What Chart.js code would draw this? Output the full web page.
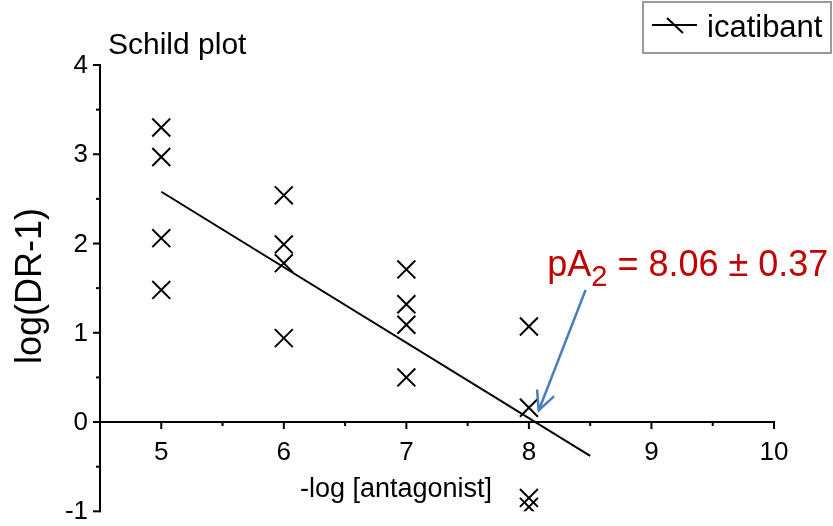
<!DOCTYPE html>
<html>
<head>
<meta charset="utf-8">
<script src="https://cdn.jsdelivr.net/npm/chart.js@4.4.1/dist/chart.umd.min.js"></script>
<style>
  html, body { margin: 0; padding: 0; background: #fff; }
  canvas { display: block; }
</style>
</head>
<body>
<canvas id="schild" width="833" height="526"></canvas>
<script>
// Dados do gráfico
const doses = [5, 5, 5, 5, 6, 6, 6, 6, 7, 7, 7, 7, 8, 8, 8, 8];
const logDR = [3.30, 2.97, 2.06, 1.48, 2.54, 1.99, 1.78, 0.94, 1.71, 1.32, 1.09, 0.50, 1.07, 0.16, -0.85, -0.95];
const fitX = [5, 8.5];
const fitY = [2.58, -0.38];
const xTicks = [5, 6, 7, 8, 9, 10];
const yTicks = [-1, 0, 1, 2, 3, 4];
const serieNome = 'icatibant';
const titulo = 'Schild plot';
const tituloX = '-log [antagonist]';
const tituloY = 'log(DR-1)';
// anotação pA2: ponta e cauda da seta em coordenadas de dados
const setaPonta = [8.08, 0.13];
const setaCauda = [8.46, 1.47];
const textoPA2 = [8.15, 1.64];

const FONTE = '"Liberation Sans", Arial, sans-serif';

function pontos(xs, ys) {
    return xs.map((x, i) => ({ x: x, y: ys[i] }));
}

// Plugin que desenha eixos, textos, legenda e anotação
const desenhoExtra = {
    id: 'desenhoExtra',
    beforeDatasetsDraw(chart) {
        const ctx = chart.ctx;
        const xs = chart.scales.x;
        const ys = chart.scales.y;
        const y0 = ys.getPixelForValue(0);
        const left = xs.getPixelForValue(xs.min);

        ctx.save();
        ctx.strokeStyle = '#000';
        ctx.lineWidth = 2;
        ctx.lineCap = 'butt';

        // eixo y
        ctx.beginPath();
        ctx.moveTo(left, ys.getPixelForValue(yTicks[yTicks.length - 1]) - 1);
        ctx.lineTo(left, ys.getPixelForValue(yTicks[0]) + 1);
        ctx.stroke();
        for (let v = yTicks[0]; v <= yTicks[yTicks.length - 1]; v += 0.5) {
            const py = ys.getPixelForValue(v);
            const len = Number.isInteger(v) ? 7 : 4;
            ctx.beginPath();
            ctx.moveTo(left - len, py);
            ctx.lineTo(left, py);
            ctx.stroke();
        }

        // eixo x (em y = 0)
        const right = xs.getPixelForValue(xTicks[xTicks.length - 1]);
        ctx.beginPath();
        ctx.moveTo(left, y0);
        ctx.lineTo(right + 1, y0);
        ctx.stroke();
        for (let v = xTicks[0]; v <= xTicks[xTicks.length - 1]; v += 0.5) {
            const px = xs.getPixelForValue(v);
            const len = Number.isInteger(v) ? 7 : 4;
            ctx.beginPath();
            ctx.moveTo(px, y0);
            ctx.lineTo(px, y0 + len);
            ctx.stroke();
        }

        // rótulos
        ctx.fillStyle = '#000';
        ctx.font = '26px ' + FONTE;
        ctx.textAlign = 'right';
        ctx.textBaseline = 'middle';
        yTicks.forEach(v => {
            ctx.fillText(String(v), left - 12, ys.getPixelForValue(v) + 1);
        });
        ctx.textAlign = 'center';
        ctx.textBaseline = 'alphabetic';
        xTicks.forEach(v => {
            ctx.fillText(String(v), xs.getPixelForValue(v), y0 + 38);
        });

        // títulos
        ctx.font = '27px ' + FONTE;
        ctx.textAlign = 'left';
        ctx.fillText(tituloX, 300, 497);
        ctx.font = '30px ' + FONTE;
        ctx.fillText(titulo, 108, 54);

        ctx.save();
        ctx.translate(31, 286);
        ctx.rotate(-Math.PI / 2);
        ctx.font = '36px ' + FONTE;
        ctx.textAlign = 'center';
        ctx.textBaseline = 'middle';
        ctx.fillText(tituloY, 0, 0);
        ctx.restore();

        ctx.restore();
    },
    afterDatasetsDraw(chart) {
        const ctx = chart.ctx;
        const xs = chart.scales.x;
        const ys = chart.scales.y;
        ctx.save();

        // legenda
        ctx.strokeStyle = '#9a9a9a';
        ctx.lineWidth = 2;
        ctx.strokeRect(643, 2, 188, 51);
        ctx.strokeStyle = '#000';
        ctx.lineWidth = 2;
        ctx.beginPath();
        ctx.moveTo(652, 25);
        ctx.lineTo(697, 25);
        ctx.moveTo(667, 18);
        ctx.lineTo(683, 33);
        ctx.stroke();
        ctx.fillStyle = '#000';
        ctx.font = '31px ' + FONTE;
        ctx.textAlign = 'left';
        ctx.textBaseline = 'alphabetic';
        ctx.fillText(serieNome, 707, 37);

        // texto pA2
        const tx = xs.getPixelForValue(textoPA2[0]);
        const ty = ys.getPixelForValue(textoPA2[1]);
        ctx.fillStyle = '#c00000';
        ctx.font = '36px ' + FONTE;
        ctx.fillText('pA', tx, ty);
        let w = ctx.measureText('pA').width;
        ctx.font = '29px ' + FONTE;
        ctx.fillText('2', tx + w, ty + 10);
        w += ctx.measureText('2').width;
        ctx.font = '36px ' + FONTE;
        ctx.fillText(' = 8.06 \u00b1 0.37', tx + w, ty);

        // seta azul
        const ax = xs.getPixelForValue(setaPonta[0]);
        const ay = ys.getPixelForValue(setaPonta[1]);
        const bx = xs.getPixelForValue(setaCauda[0]);
        const by = ys.getPixelForValue(setaCauda[1]);
        const ang = Math.atan2(ay - by, ax - bx);
        const cab = 20;
        ctx.strokeStyle = '#4a7ebb';
        ctx.lineWidth = 2.5;
        ctx.lineCap = 'round';
        ctx.beginPath();
        ctx.moveTo(bx, by);
        ctx.lineTo(ax, ay);
        ctx.moveTo(ax - cab * Math.cos(ang - 0.45), ay - cab * Math.sin(ang - 0.45));
        ctx.lineTo(ax, ay);
        ctx.lineTo(ax - cab * Math.cos(ang + 0.45), ay - cab * Math.sin(ang + 0.45));
        ctx.stroke();

        ctx.restore();
    }
};

const chart = new Chart(document.getElementById('schild'), {
    type: 'scatter',
    data: {
        datasets: [
            {
                label: serieNome,
                data: pontos(doses, logDR),
                pointStyle: 'crossRot',
                pointRadius: 12.7,
                pointBorderWidth: 2,
                borderColor: '#000',
                backgroundColor: '#000'
            },
            {
                type: 'line',
                label: 'ajuste',
                data: pontos(fitX, fitY),
                borderColor: '#000',
                borderWidth: 2,
                pointRadius: 0,
                fill: false
            }
        ]
    },
    options: {
        responsive: false,
        devicePixelRatio: 1,
        animation: false,
        layout: { padding: { left: 100, right: 59, top: 65, bottom: 13 } },
        scales: {
            x: { type: 'linear', min: 4.5, max: 10, display: false },
            y: { type: 'linear', min: -1, max: 4, display: false }
        },
        plugins: {
            legend: { display: false },
            tooltip: { enabled: false }
        }
    },
    plugins: [desenhoExtra]
});
</script>
</body>
</html>
